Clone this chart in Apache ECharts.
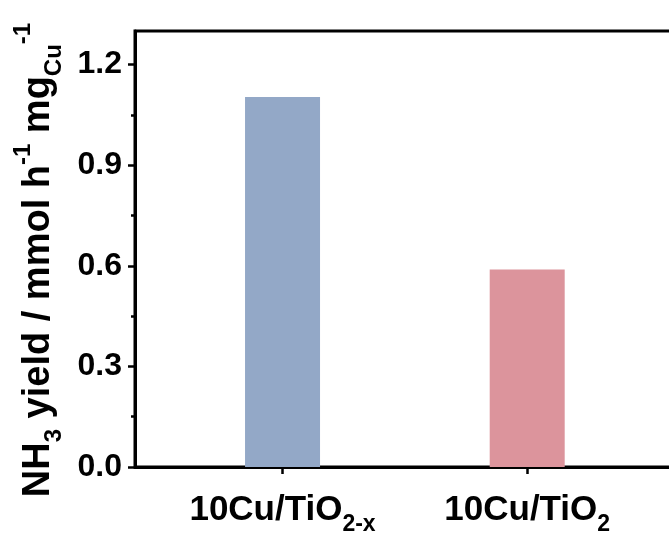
<!DOCTYPE html>
<html>
<head>
<meta charset="utf-8">
<script src="https://cdn.jsdelivr.net/npm/echarts@6/dist/echarts.min.js"></script>
<style>
  html, body { margin: 0; padding: 0; background: #fff; }
  #chart { width: 669px; height: 536px; }
</style>
</head>
<body>
<div id="chart"></div>
<script>
// Catalysts and their NH3 yields (mmol h^-1 mg_Cu^-1)
const categories = ['10Cu/TiO2-x', '10Cu/TiO2'];
const yields = [1.103, 0.589];
const barColors = ['#93a8c7', '#dc949c'];
const yTicks = [0, 0.3, 0.6, 0.9, 1.2];
const yMinorTicks = [0.15, 0.45, 0.75, 1.05];

const FONT = '"Liberation Sans", Arial, sans-serif';

// "10Cu/TiO2-x" -> rich text with the trailing part after "TiO" as subscript
function richCategory(name) {
  const m = name.match(/^(.*TiO)(.+)$/);
  return m ? '{b|' + m[1] + '}{s|' + m[2] + '}' : '{b|' + name + '}';
}

const chart = echarts.init(document.getElementById('chart'));
chart.setOption({
  animation: false,
  backgroundColor: '#fff',
  grid: {
    left: 135, top: 31, width: 539, height: 436,
    outerBoundsMode: 'none',
    show: true, borderColor: '#000', borderWidth: 3, backgroundColor: 'transparent'
  },
  xAxis: {
    type: 'value',
    min: -0.603, max: 1.6,
    splitLine: { show: false },
    axisLine: { show: true, onZero: false, lineStyle: { color: '#000', width: 3 } },
    axisTick: { show: true, inside: false, length: 7, customValues: categories.map((c, i) => i),
      lineStyle: { color: '#000', width: 2.5 } },
    axisLabel: {
      customValues: categories.map((c, i) => i),
      margin: 19,
      formatter: v => richCategory(categories[Math.round(v)]),
      rich: {
        b: { fontFamily: FONT, fontWeight: 'bold', fontSize: 35, color: '#000', lineHeight: 42, verticalAlign: 'bottom' },
        s: { fontFamily: FONT, fontWeight: 'bold', fontSize: 23, color: '#000', lineHeight: 42, verticalAlign: 'bottom', padding: [0, 0, -8, 0] }
      }
    }
  },
  yAxis: [{
    type: 'value',
    min: 0, max: 1.3,
    splitLine: { show: false },
    axisLine: { show: true, onZero: false, lineStyle: { color: '#000', width: 3 } },
    axisTick: { show: true, inside: false, length: 7, customValues: yTicks,
      lineStyle: { color: '#000', width: 2.5 } },
    axisLabel: {
      customValues: yTicks,
      margin: 13,
      fontFamily: FONT, fontWeight: 'bold', fontSize: 32, color: '#000',
      formatter: v => v.toFixed(1)
    },
    name: '{n|NH}{sub|3}{n| yield / mmol h}{sup|-1}{n| mg}{sub|Cu}{sup|-1}',
    nameLocation: 'middle',
    nameRotate: 90,
    nameGap: 66,
    nameTextStyle: {
      padding: [0, 22, 0, 0],
      rich: {
        n: { fontFamily: FONT, fontWeight: 'bold', fontSize: 38, color: '#000', lineHeight: 46, verticalAlign: 'bottom' },
        sub: { fontFamily: FONT, fontWeight: 'bold', fontSize: 24, color: '#000', lineHeight: 46, verticalAlign: 'bottom', padding: [0, 0, -9, 0] },
        sup: { fontFamily: FONT, fontWeight: 'bold', fontSize: 24, color: '#000', lineHeight: 46, verticalAlign: 'top' }
      }
    }
  }, {
    // minor ticks between the labelled values
    type: 'value',
    position: 'left',
    min: 0, max: 1.3,
    splitLine: { show: false },
    axisLine: { show: false, onZero: false },
    axisLabel: { show: false },
    axisTick: { show: true, inside: false, length: 4, customValues: yMinorTicks,
      lineStyle: { color: '#000', width: 2.5 } }
  }],
  series: [{
    type: 'bar',
    barWidth: 75,
    data: categories.map((c, i) => ({ value: [i, yields[i]], itemStyle: { color: barColors[i] } }))
  }]
});
</script>
</body>
</html>
